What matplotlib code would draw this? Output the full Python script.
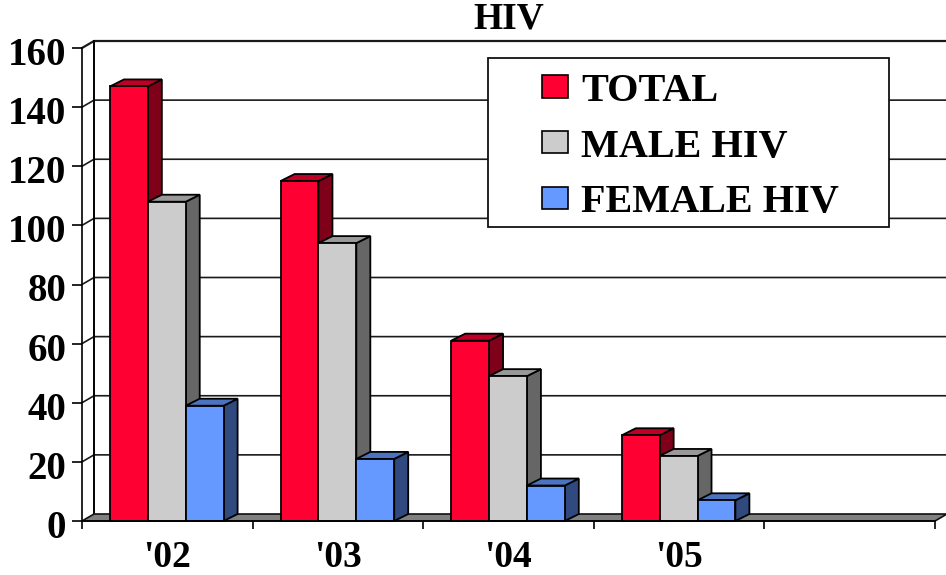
import numpy as np
import matplotlib
matplotlib.use("Agg")
import matplotlib.pyplot as plt
from matplotlib.patches import Patch, Polygon, Rectangle
from matplotlib.transforms import ScaledTranslation

# Data
years = ["'02", "'03", "'04", "'05"]
total = [147, 115, 61, 29]
male = [108, 94, 49, 22]
female = [39, 21, 12, 7]
y_ticks = [0, 20, 40, 60, 80, 100, 120, 140, 160]

# colours: front, side, top
red = ("#FF0033", "#7F0019", "#BF0026")
grey = ("#CCCCCC", "#666666", "#999999")
blue = ("#6699FF", "#304A80", "#4C73BF")

W, H = 946, 575
plt.rcParams["font.family"] = ["Liberation Serif", "DejaVu Serif"]
plt.rcParams["font.weight"] = "bold"

fig = plt.figure(figsize=(W / 100, H / 100), dpi=100)
ax = fig.add_axes([82 / W, 1 - 521 / H, 853 / W, 473 / H])
ax.set_xlim(0, 5)
ax.set_ylim(0, 160)

# 3D depth of the chart, in data units
dx = 12 / 853 * 5
dy = 7 / 473 * 160
bar_dx = 14 / 853 * 5
bar_w = 0.222
bar_start = 0.164

# back wall, grid and floor
for v in y_ticks[1:]:
    ax.plot([0, dx, 5 + dx], [v, v + dy, v + dy], color="#1a1a1a",
            lw=1.6 if v == 160 else 1.2, clip_on=False, zorder=1)
ax.plot([dx, dx], [dy, 160 + dy], color="black", lw=1.4, clip_on=False, zorder=1)
ax.add_patch(Polygon([(0, 0), (dx, dy), (5 + dx, dy), (5, 0)], closed=True,
                     facecolor="#808080", edgecolor="#111111", lw=1.2,
                     clip_on=False, zorder=2))


def draw_bar(x, v, cols, z):
    ax.bar(x, v, bar_w, align="edge", color=cols[0], edgecolor="black", lw=1.3,
           clip_on=False, zorder=z + 0.2)
    side = [(x + bar_w, 0), (x + bar_w + bar_dx, dy), (x + bar_w + bar_dx, v + dy), (x + bar_w, v)]
    top = [(x, v), (x + bar_dx, v + dy), (x + bar_w + bar_dx, v + dy), (x + bar_w, v)]
    ax.add_patch(Polygon(side, closed=True, facecolor=cols[1], edgecolor="black",
                         lw=1.3, clip_on=False, zorder=z))
    ax.add_patch(Polygon(top, closed=True, facecolor=cols[2], edgecolor="black",
                         lw=1.3, clip_on=False, zorder=z + 0.1))


z = 3
for i in range(len(total)):
    for j, (vals, cols) in enumerate([(total, red), (male, grey), (female, blue)]):
        draw_bar(i + bar_start + j * bar_w, vals[i], cols, z)
        z += 1

# axes
for s in ["top", "right"]:
    ax.spines[s].set_visible(False)
for s in ["left", "bottom"]:
    ax.spines[s].set_linewidth(1.2)
    ax.spines[s].set_zorder(z)
ax.patch.set_visible(False)

ax.set_yticks(y_ticks)
ax.set_yticklabels([str(v) for v in y_ticks], fontsize=28, fontweight="bold")
ax.tick_params(axis="y", length=7.2, width=1.2, pad=4)
shift = ScaledTranslation(0, -3 / 100, fig.dpi_scale_trans)
for lab in ax.get_yticklabels():
    lab.set_transform(lab.get_transform() + shift)

ax.set_xticks(np.arange(6))
ax.set_xticklabels([])
ax.tick_params(axis="x", which="major", length=6, width=1.2)
ax.set_xticks(np.arange(len(years)) + 0.5, minor=True)
ax.set_xticklabels(years, minor=True, fontsize=27, fontweight="bold")
ax.tick_params(axis="x", which="minor", length=0, pad=14)

ax.set_title("HIV", fontsize=27, fontweight="bold", pad=14)

# legend box, then the legend itself without its frame
box_tr = fig.transFigure
ax.add_artist(Rectangle((488 / W, 1 - 227 / H), 401 / W, 169 / H, transform=box_tr,
                        facecolor="white", edgecolor="#111111", lw=1.3,
                        clip_on=False, zorder=z + 1))
handles = [Patch(facecolor=c[0], edgecolor="black", lw=1.2) for c in (red, grey, blue)]
leg = ax.legend(handles, ["TOTAL", "MALE HIV", "FEMALE HIV"],
                loc="upper left", bbox_to_anchor=(542 / W, 1 - 73 / H),
                bbox_transform=box_tr, frameon=False, borderpad=0, borderaxespad=0,
                prop={"size": 29, "weight": "bold"}, handlelength=0.65,
                handleheight=0.48, handletextpad=0.32, labelspacing=0.46)
leg.set_zorder(z + 2)

fig.savefig("out.png", dpi=100)
